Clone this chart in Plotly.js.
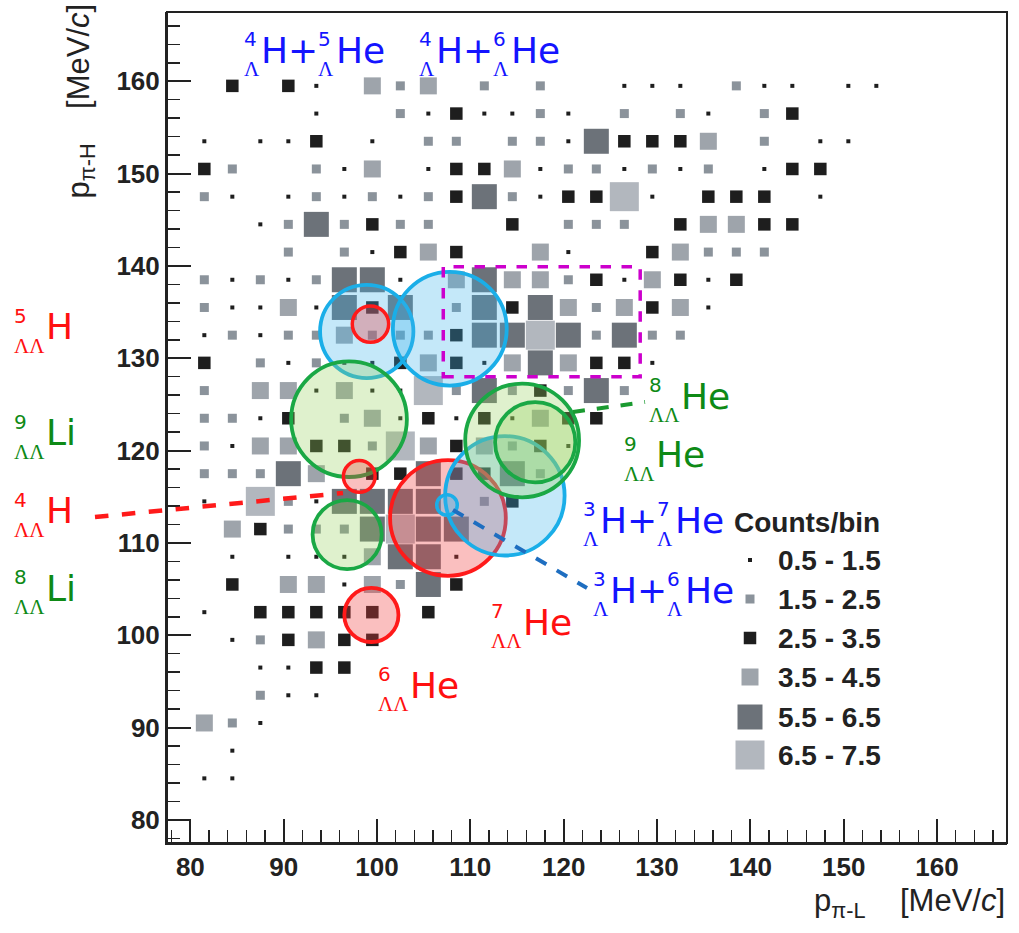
<!DOCTYPE html>
<html><head><meta charset="utf-8">
<script src="https://cdn.plot.ly/plotly-3.0.1.min.js"></script>
<style>body{margin:0;background:#fff}#chart{width:1019px;height:933px}</style>
</head><body><div id="chart"></div>
<script>
// ---------------- DATA ----------------
// bin centres (3 MeV/c bins)
const xCenters = [81.5,84.5,87.5,90.5,93.5,96.5,99.5,102.5,105.5,108.5,111.5,114.5,117.5,120.5,123.5,126.5,129.5,132.5,135.5,138.5,141.5,144.5,147.5,150.5,153.5];
const yCenters = [159.5,156.5,153.5,150.5,147.5,144.5,141.5,138.5,135.5,132.5,129.5,126.5,123.5,120.5,117.5,114.5,111.5,108.5,105.5,102.5,99.5,96.5,93.5,90.5,87.5,84.5,81.5];
// counts per bin, rows top (159.5) to bottom (81.5), columns 81.5 .. 153.5
const counts = [
 [0,3,0,3,1,0,4,2,4,0,2,0,2,0,0,1,1,1,0,2,1,1,0,1,1],
 [0,0,0,0,1,0,0,2,1,3,1,1,2,1,0,2,0,2,1,0,2,3,0,0,0],
 [1,0,1,1,3,0,1,0,2,2,0,2,2,1,6,3,3,3,4,0,2,0,1,1,0],
 [3,2,0,0,2,1,4,0,1,3,3,4,1,2,2,1,2,1,2,0,1,3,3,0,0],
 [2,1,0,1,2,1,2,1,2,3,6,2,1,3,3,7,1,0,3,3,3,0,1,0,0],
 [0,0,1,2,6,2,3,2,2,0,0,3,0,2,2,2,0,3,4,4,3,3,0,0,0],
 [0,0,0,2,0,2,1,3,4,3,0,0,4,1,0,0,3,4,2,2,2,0,0,0,0],
 [2,1,2,1,2,6,6,1,0,4,6,4,4,2,3,1,4,3,1,3,0,0,0,0,0],
 [2,1,1,4,1,6,3,6,0,2,6,3,6,4,2,4,3,4,1,0,0,0,0,0,0],
 [1,2,1,2,2,4,2,2,2,3,6,6,7,6,2,6,2,2,0,0,0,0,0,0,0],
 [3,0,2,1,2,1,1,3,4,3,1,4,6,4,3,3,1,0,0,0,0,0,0,0,0],
 [2,0,4,4,1,4,1,1,7,2,6,2,3,2,6,2,0,0,0,0,0,0,0,0,0],
 [2,2,1,3,0,2,4,1,3,1,3,1,4,3,3,0,0,0,0,0,0,0,0,0,0],
 [2,1,4,4,3,3,2,7,4,3,4,2,3,1,0,0,0,0,0,0,0,0,0,0,0],
 [2,2,2,6,4,0,3,3,6,3,3,6,2,0,0,0,0,0,0,0,0,0,0,0,0],
 [1,0,7,2,1,6,6,6,6,0,2,3,0,0,0,0,0,0,0,0,0,0,0,0,0],
 [0,4,3,2,2,2,6,7,6,6,0,0,0,0,0,0,0,0,0,0,0,0,0,0,0],
 [0,1,0,1,1,1,4,6,6,1,0,0,0,0,0,0,0,0,0,0,0,0,0,0,0],
 [0,3,0,4,4,1,4,2,6,3,0,0,0,0,0,0,0,0,0,0,0,0,0,0,0],
 [1,0,3,3,3,3,3,0,3,0,0,0,0,0,0,0,0,0,0,0,0,0,0,0,0],
 [0,1,2,3,4,3,3,0,0,0,0,0,0,0,0,0,0,0,0,0,0,0,0,0,0],
 [0,0,1,1,3,3,0,0,0,0,0,0,0,0,0,0,0,0,0,0,0,0,0,0,0],
 [0,0,2,1,1,0,0,0,0,0,0,0,0,0,0,0,0,0,0,0,0,0,0,0,0],
 [4,2,1,0,0,0,0,0,0,0,0,0,0,0,0,0,0,0,0,0,0,0,0,0,0],
 [0,1,0,0,0,0,0,0,0,0,0,0,0,0,0,0,0,0,0,0,0,0,0,0,0],
 [1,1,0,0,0,0,0,0,0,0,0,0,0,0,0,0,0,0,0,0,0,0,0,0,0],
 [0,0,0,0,0,0,0,0,0,0,0,0,0,0,0,0,0,0,0,0,0,0,0,0,0]
];
const countClasses = [1,2,3,4,6,7];
const classLabels = ['0.5 - 1.5','1.5 - 2.5','2.5 - 3.5','3.5 - 4.5','5.5 - 6.5','6.5 - 7.5'];
const xTicks = [80,90,100,110,120,130,140,150,160];
const yTicks = [80,90,100,110,120,130,140,150,160];

// highlight circles: centre x, centre y, radius (MeV/c)
const circleNames = ['4ΛH+5ΛHe','4ΛH+6ΛHe','5ΛΛH','9ΛΛLi','4ΛΛH','8ΛΛLi','6ΛΛHe','7ΛΛHe','3ΛH+7ΛHe','8ΛΛHe','9ΛΛHe','3ΛH+6ΛHe'];
const circleX    = [98.9,107.8,99.3,97.0,98.1,96.8,99.4,107.6,113.7,115.55,116.95,107.5];
const circleY    = [132.9,133.2,133.7,123.4,117.2,110.9,102.2,112.7,115.1,121.1,120.9,114.1];
const circleR    = [5.0,6.1,1.95,6.2,1.7,3.7,2.9,6.2,6.4,6.1,4.3,1.1];
const circleKind = ['b','b','r','g','r','g','r','r','b','g','g','b'];
// dashed search window
const windowX = [107.1,128.2];
const windowY = [128.0,139.9];

// ---------------- STYLE ----------------
const classColors = ['#1e1e1e','#8b939b','#1e1e1e','#9ea4ab','#6c7279','#b2b7be'];
const classSizes  = [4,9,12.5,17,25,29];
const W=1019,H=933, L=167,R=12,T=12,B=90;
const PW=W-L-R, PH=H-T-B;
const px2x = p => (p-L)/PW;
const py2y = p => (H-B-p)/PH;
const RED='#ff1010', GREEN='#0e8a16', BLUE='#1414ff';
const kindStyle = {
  r:{line:'#ff1a1a', fill:'rgba(240,60,60,0.33)'},
  g:{line:'#1aa845', fill:'rgba(150,210,90,0.30)'},
  b:{line:'#1aaee8', fill:'rgba(60,180,235,0.30)'}
};

// ---------------- TRACES ----------------
const traces = countClasses.map((c,k)=>{
  const xs=[], ys=[];
  counts.forEach((row,j)=>row.forEach((v,i)=>{ if(v===c){xs.push(xCenters[i]); ys.push(yCenters[j]);} }));
  return {type:'scatter', mode:'markers', x:xs, y:ys, name:classLabels[k], showlegend:false,
    hoverinfo:'x+y', marker:{symbol:'square', size:classSizes[k], color:classColors[k], line:{width:0}}};
});

// ---------------- SHAPES ----------------
const shapes = [];
// frame
shapes.push({type:'rect', xref:'paper', yref:'paper', x0:0, x1:1, y0:0, y1:1, line:{color:'#222', width:2}, layer:'above'});
circleX.forEach((cx,k)=>{
  const st = kindStyle[circleKind[k]], r = circleR[k];
  shapes.push({type:'circle', xref:'x', yref:'y', x0:cx-r, x1:cx+r, y0:circleY[k]-r*1.01, y1:circleY[k]+r*1.01,
    fillcolor:st.fill, line:{color:st.line, width: r<2 ? 3.5 : 3.8}, layer:'above'});
});
shapes.push({type:'rect', xref:'x', yref:'y', x0:windowX[0], x1:windowX[1], y0:windowY[0], y1:windowY[1],
  line:{color:'#cc00cc', width:3.5, dash:'dash'}, layer:'above'});
// connector lines (paper coords)
function seg(p1,p2,color,w){ shapes.push({type:'line', xref:'paper', yref:'paper', x0:px2x(p1[0]), y0:py2y(p1[1]), x1:px2x(p2[0]), y1:py2y(p2[1]), line:{color:color,width:w,dash:'dash'}}); }
seg([95,517],[343,493],'#ff1a1a',4.5);
seg([573,412],[645,402],'#1a9a30',4);
seg([453,510],[587,588],'#1e6ec0',4);

// legend boxes
const legendRows = [560,599,638,677,717,755];
const annotations = [];
countClasses.forEach((c,k)=>{
  const s = classSizes[k], cx=750, cy=legendRows[k];
  shapes.push({type:'rect', xref:'paper', yref:'paper', x0:px2x(cx-s/2), x1:px2x(cx+s/2), y0:py2y(cy+s/2), y1:py2y(cy-s/2),
    fillcolor:classColors[k], line:{width:0}});
  annotations.push({xref:'paper', yref:'paper', x:px2x(777), y:py2y(cy), xanchor:'left', yanchor:'middle', showarrow:false,
    text:classLabels[k], font:{family:'Liberation Sans', size:28, weight:'bold', color:'#222'}, borderpad:0});
});
annotations.push({xref:'paper', yref:'paper', x:px2x(733), y:py2y(522), xanchor:'left', yanchor:'middle', showarrow:false,
  text:'Counts/bin', font:{family:'Liberation Sans', size:28, weight:'bold', color:'#222'}, borderpad:0});

// axis titles
annotations.push({xref:'paper', yref:'paper', x:px2x(1006), y:py2y(903), xanchor:'right', yanchor:'middle', showarrow:false,
  text:'p<sub>π-L</sub>\u00a0\u00a0\u00a0\u00a0[MeV/<i>c</i>]', font:{family:'Liberation Sans', size:31, color:'#222'}, borderpad:0});
annotations.push({xref:'paper', yref:'paper', x:px2x(80), y:py2y(3), xanchor:'center', yanchor:'top', textangle:-90, showarrow:false,
  text:'p<sub>π-H</sub>\u00a0\u00a0\u00a0\u00a0[MeV/<i>c</i>]', font:{family:'Liberation Sans', size:31, color:'#222'}, borderpad:0});

// isotope labels with stacked pre-super/subscripts
const ctx = document.createElement('canvas').getContext('2d');
function tw(t,f){ctx.font=f; return ctx.measureText(t).width;}
const MAIN=36, SUP=20, SUB=21;
function iso(x0, yc, color, parts){
  let x=x0;
  parts.forEach(p=>{
    annotations.push({xref:'paper', yref:'paper', x:px2x(x), y:py2y(yc-11), xanchor:'left', yanchor:'middle', showarrow:false,
      text:p.sup, font:{family:'DejaVu Sans', size:SUP, color:color}, borderpad:0});
    annotations.push({xref:'paper', yref:'paper', x:px2x(x), y:py2y(yc+19), xanchor:'left', yanchor:'middle', showarrow:false,
      text:p.sub, font:{family:'Liberation Serif', size:SUB, color:color}, borderpad:0});
    const pw = Math.max(tw(p.sup, SUP+'px "DejaVu Sans"'), tw(p.sub, SUB+'px "Liberation Serif"')) + 2;
    x += pw;
    annotations.push({xref:'paper', yref:'paper', x:px2x(x), y:py2y(yc), xanchor:'left', yanchor:'middle', showarrow:false,
      text:p.main, font:{family:'DejaVu Sans', size:MAIN, color:color}, borderpad:0});
    x += tw(p.main, MAIN+'px "DejaVu Sans"');
  });
}
iso(243, 50, BLUE, [{sup:'4',sub:'Λ',main:'H+'},{sup:'5',sub:'Λ',main:'He'}]);
iso(418, 50, BLUE, [{sup:'4',sub:'Λ',main:'H+'},{sup:'6',sub:'Λ',main:'He'}]);
iso(13, 327, RED,   [{sup:'5',sub:'ΛΛ',main:'H'}]);
iso(13, 433, GREEN, [{sup:'9',sub:'ΛΛ',main:'Li'}]);
iso(13, 511, RED,   [{sup:'4',sub:'ΛΛ',main:'H'}]);
iso(13, 588, GREEN, [{sup:'8',sub:'ΛΛ',main:'Li'}]);
iso(648, 396, GREEN, [{sup:'8',sub:'ΛΛ',main:'He'}]);
iso(623, 455, GREEN, [{sup:'9',sub:'ΛΛ',main:'He'}]);
iso(582, 520, BLUE, [{sup:'3',sub:'Λ',main:'H+'},{sup:'7',sub:'Λ',main:'He'}]);
iso(592, 590, BLUE, [{sup:'3',sub:'Λ',main:'H+'},{sup:'6',sub:'Λ',main:'He'}]);
iso(490, 622, RED,  [{sup:'7',sub:'ΛΛ',main:'He'}]);
iso(377, 685, RED,  [{sup:'6',sub:'ΛΛ',main:'He'}]);

// ---------------- LAYOUT ----------------
const axisCommon = {range:[77.5,167.5], showgrid:false, zeroline:false, showline:true, linewidth:2, linecolor:'#222', mirror:false,
  ticks:'inside', ticklen:24, tickwidth:2, tickcolor:'#222',
  minor:{dtick:2, ticks:'inside', ticklen:13, tickwidth:1.5, tickcolor:'#222'},
  tickfont:{family:'Liberation Sans', size:26, weight:'bold', color:'#222'}};
const layout = {
  width:W, height:H, margin:{l:L,r:R,t:T,b:B}, paper_bgcolor:'#fff', plot_bgcolor:'#fff', showlegend:false,
  xaxis:Object.assign({}, axisCommon, {tickmode:'array', tickvals:xTicks, ticktext:xTicks.map(String)}),
  yaxis:Object.assign({}, axisCommon, {tickmode:'array', tickvals:yTicks, ticktext:yTicks.map(String)}),
  shapes:shapes, annotations:annotations
};
Plotly.newPlot('chart', traces, layout, {displayModeBar:false, staticPlot:true});
</script></body></html>
